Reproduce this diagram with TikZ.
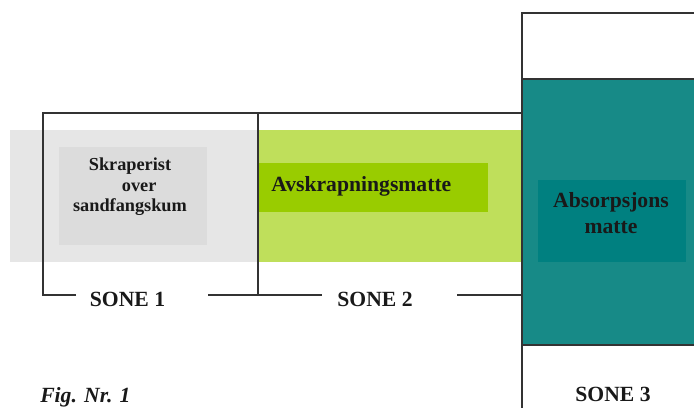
\documentclass[tikz,border=0pt]{standalone}
\usepackage{fontspec}
\setmainfont{Liberation Serif}
\usepackage{tikz}
\usetikzlibrary{positioning}
\definecolor{sone1grau}{HTML}{E6E6E6}
\definecolor{sone1box}{HTML}{DCDCDC}
\definecolor{sone2gruen}{HTML}{BFDF5B}
\definecolor{sone2box}{HTML}{99CC00}
\definecolor{sone3teal}{HTML}{178A87}
\definecolor{sone3box}{HTML}{008080}
\definecolor{strek}{HTML}{333333}
\tikzstyle{frame}=[draw=strek, line width=0.8pt]
\tikzstyle{sone}=[font=\fontsize{15.4}{18}\selectfont\bfseries, inner sep=0pt, text=black!90]
\tikzstyle{boxtekst}=[font=\fontsize{15.4}{18.4}\selectfont\bfseries, inner sep=0pt, text=black!90, align=center]

\begin{document}
\begin{tikzpicture}[x=0.025cm, y=-0.025cm]
    \useasboundingbox (0,0) rectangle (694,408);
    \def\ytop{113};
    \def\ybunn{295};
    \def\xa{43};
    \def\xb{258};
    \def\xc{522};

    % bakgrunnsbånd
    \fill[sone1grau] (10,130) rectangle (\xb,262);
    \fill[sone2gruen] (\xb,130) rectangle (\xc,262);

    % sone 3
    \draw[frame] (694,13) -- (\xc,13) -- (\xc,408);
    \filldraw[sone3teal, draw=strek, line width=0.8pt] (694,79) -- (\xc,79) -- (\xc,345) -- (694,345);

    % indre bokser
    \fill[sone1box] (59,147) rectangle (207,245);
    \fill[sone2box] (\xb,163) rectangle (488,212);
    \fill[sone3box] (538,180) rectangle (686,262);

    % tekst i boksene
    \node[boxtekst, font=\fontsize{13}{14.5}\selectfont\bfseries, anchor=north] (skraperist) at (130,158)
      {Skraperist\\\hspace*{1em}over\\sandfangskum};
    \node[boxtekst, anchor=base west] (avskrap) at (271,191) {Avskrapningsmatte};
    \node[boxtekst, anchor=north] (absorp) at (611,192) {Absorpsjons\\matte};

    % sonenavn
    \node[sone, anchor=base] (sone1) at (127.5,306) {SONE 1};
    \node[sone, anchor=base] (sone2) at (375,306) {SONE 2};
    \node[sone, anchor=base] (sone3) at (613,401) {SONE 3};
    \coordinate (s1a) at (76,\ybunn);
    \coordinate (s1b) at (208,\ybunn);
    \coordinate (s2a) at (322,\ybunn);
    \coordinate (s2b) at (457,\ybunn);

    % ramme for sone 1 og 2
    \draw[frame] (s1a) -- (\xa,\ybunn) -- (\xa,\ytop) -- (\xc,\ytop);
    \draw[frame] (s1b) -- (\xb,\ybunn) -- (s2a);
    \draw[frame] (\xb,\ytop) -- (\xb,\ybunn);
    \draw[frame] (s2b) -- (\xc,\ybunn);

    % figurtekst
    \node[sone, font=\fontsize{15.4}{18}\selectfont\bfseries\itshape, anchor=base west] (fig) at (40,402) {Fig. Nr. 1};
\end{tikzpicture}
\end{document}
